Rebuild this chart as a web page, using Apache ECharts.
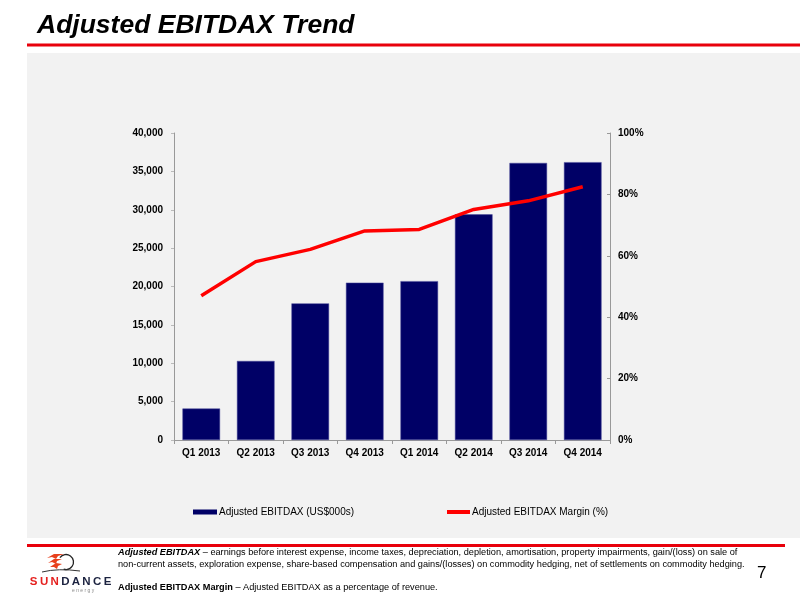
<!DOCTYPE html>
<html>
<head>
<meta charset="utf-8">
<script src="https://cdn.jsdelivr.net/npm/echarts@6/dist/echarts.min.js"></script>
<style>
html,body{margin:0;padding:0;background:#fff;}
#c{width:800px;height:600px;}
</style>
</head>
<body>
<div id="c"></div>
<script>
const categories = ['Q1 2013','Q2 2013','Q3 2013','Q4 2013','Q1 2014','Q2 2014','Q3 2014','Q4 2014'];
const ebitdax = [4100, 10300, 17800, 20500, 20700, 29400, 36100, 36200];
const margin = [47.0, 58.1, 62.1, 68.1, 68.6, 75.1, 77.9, 82.5];
const leftTicks = {min: 0, max: 40000, interval: 5000};
const rightTicks = {min: 0, max: 100, interval: 20};
const barName = 'Adjusted EBITDAX (US$000s)';
const lineName = 'Adjusted EBITDAX Margin (%)';

const FONT = '"Liberation Sans", Arial, sans-serif';
const chart = echarts.init(document.getElementById('c'), null, {renderer: 'canvas'});

function txt(x, y, text, font, fill, extra) {
  return Object.assign({type: 'text', x: x, y: y, style: {text: text, font: font, fill: fill || '#000', textVerticalAlign: 'top'}}, extra || {});
}

const logoLetters = 'SUNDANCE'.split('');
const logoGraphics = logoLetters.map((ch, i) => ({
  type: 'text', x: 33.5 + i * 10.6, y: 576,
  style: {text: ch, font: 'bold 11.5px ' + FONT, fill: i < 3 ? '#e5211f' : '#1c2340', textAlign: 'center', textVerticalAlign: 'top'}
}));

const option = {
  backgroundColor: '#ffffff',
  textStyle: {fontFamily: FONT},
  animation: false,
  graphic: [
    {type: 'rect', z: -10, shape: {x: 27, y: 53, width: 773, height: 485}, style: {fill: '#f2f2f2'}},
    {type: 'rect', shape: {x: 27, y: 43.5, width: 773, height: 3}, style: {fill: '#e8000b'}},
    txt(37, 12, 'Adjusted EBITDAX Trend', 'italic bold 26.5px ' + FONT),
    {type: 'rect', shape: {x: 27, y: 544, width: 758, height: 3}, style: {fill: '#e8000b'}},
    {type: 'text', x: 118, y: 548, style: {rich: {
        b: {font: 'italic bold 9.2px ' + FONT, fill: '#000'},
        n: {font: '9.2px ' + FONT, fill: '#000'}
      }, text: '{b|Adjusted EBITDAX}{n| – earnings before interest expense, income taxes, depreciation, depletion, amortisation, property impairments, gain/(loss) on sale of}'}},
    txt(118, 560, 'non-current assets, exploration expense, share-based compensation and gains/(losses) on commodity hedging, net of settlements on commodity hedging.', '9.2px ' + FONT),
    {type: 'text', x: 118, y: 583, style: {rich: {
        b: {font: 'bold 9.2px ' + FONT, fill: '#000'},
        n: {font: '9.2px ' + FONT, fill: '#000'}
      }, text: '{b|Adjusted EBITDAX Margin}{n| – Adjusted EBITDAX as a percentage of revenue.}'}},
    txt(757, 565, '7', '17px ' + FONT),
    // logo
    {type: 'arc', shape: {cx: 66, cy: 562, r: 7.5, startAngle: Math.PI * 1.2, endAngle: Math.PI * 2.6}, style: {stroke: '#222', lineWidth: 1.3, fill: null}},
    {type: 'polygon', shape: {points: [[47,558],[54,554],[64,554],[58,556],[56,559],[52,557]]}, style: {fill: '#e8401c'}},
    {type: 'polygon', shape: {points: [[48,563],[54,559],[62,559],[57,561],[56,564],[52,562]]}, style: {fill: '#e8401c'}},
    {type: 'polygon', shape: {points: [[50,567],[56,563],[62,564],[58,566],[57,569],[54,567]]}, style: {fill: '#e8401c'}},
    {type: 'bezierCurve', shape: {x1: 42, y1: 572, x2: 80, y2: 571, cpx1: 58, cpy1: 568}, style: {stroke: '#333', lineWidth: 1, fill: null}},
    ...logoGraphics,
    txt(72, 588, 'e n e r g y', '5px ' + FONT, '#888')
  ],
  legend: [
    {data: [{name: barName, icon: 'rect', itemStyle: {color: '#000066', borderWidth: 0}}], left: 188, top: 502, itemWidth: 24, itemHeight: 5, itemGap: 0,
     textStyle: {fontSize: 10, color: '#000', fontFamily: FONT, padding: [0,0,0,-3]}},
    {data: [{name: lineName, icon: 'rect'}], left: 442, top: 502, itemWidth: 23, itemHeight: 4, itemGap: 0,
     textStyle: {fontSize: 10, color: '#000', fontFamily: FONT, padding: [0,0,0,-3]}}
  ],
  grid: {left: 174, right: 190, top: 133, bottom: 160, containLabel: false},
  xAxis: {
    type: 'category', data: categories,
    axisLine: {lineStyle: {color: '#999', width: 1}},
    axisTick: {show: true, alignWithLabel: false, length: 4, lineStyle: {color: '#999'}},
    axisLabel: {color: '#000', fontWeight: 'bold', fontSize: 10, margin: 8, fontFamily: FONT}
  },
  yAxis: [
    {type: 'value', min: leftTicks.min, max: leftTicks.max, interval: leftTicks.interval,
     axisLine: {show: true, lineStyle: {color: '#999'}},
     axisTick: {show: true, length: 3, lineStyle: {color: '#bbb'}},
     splitLine: {show: false},
     axisLabel: {color: '#000', fontWeight: 'bold', fontSize: 10, margin: 11, fontFamily: FONT,
       formatter: v => v.toLocaleString('en-US')}},
    {type: 'value', min: rightTicks.min, max: rightTicks.max, interval: rightTicks.interval, position: 'right',
     axisLine: {show: true, lineStyle: {color: '#999'}},
     axisTick: {show: true, inside: true, length: 3, lineStyle: {color: '#999'}},
     splitLine: {show: false},
     axisLabel: {color: '#000', fontWeight: 'bold', fontSize: 10, margin: 8, fontFamily: FONT,
       formatter: v => v + '%'}}
  ],
  series: [
    {name: barName, type: 'bar', data: ebitdax, yAxisIndex: 0, barCategoryGap: '31%',
     itemStyle: {color: '#000066', borderColor: '#4a4a9a', borderWidth: 0.5}},
    {name: lineName, type: 'line', data: margin, yAxisIndex: 1, symbol: 'none',
     lineStyle: {color: '#ff0000', width: 3.5}, itemStyle: {color: '#ff0000'}}
  ]
};
chart.setOption(option);
</script>
</body>
</html>
